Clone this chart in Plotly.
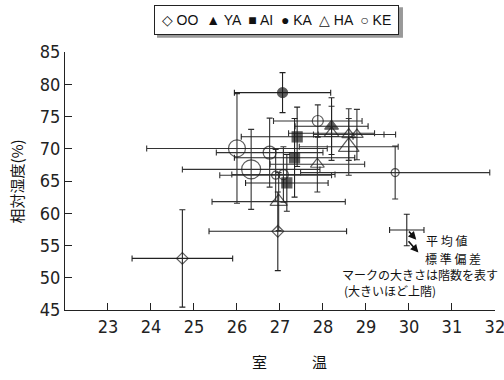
import plotly.graph_objects as go

# ---- data: mean room temperature (°C), mean RH (%), SDs, marker size (floor) ----
oo_t = [24.73, 26.95]
oo_h = [53.0, 57.2]
oo_tsd = [1.17, 1.6]
oo_hsd = [7.55, 6.1]
oo_sz = [9, 9]

ya_t = [28.2]
ya_h = [73.5]
ya_tsd = [0.85]
ya_hsd = [4.4]
ya_sz = [12]

ai_t = [27.40, 27.34, 27.16]
ai_h = [71.85, 68.6, 64.7]
ai_tsd = [1.3, 1.4, 0.96]
ai_hsd = [4.6, 6.1, 4.4]
ai_sz = [10, 10, 10]

ka_t = [27.06]
ka_h = [78.7]
ka_tsd = [1.12]
ka_hsd = [3.1]
ka_sz = [10]

ha_t = [26.97, 27.87, 28.6, 28.6, 28.79, 28.2]
ha_h = [61.8, 67.6, 70.3, 72.2, 72.2, 72.4]
ha_tsd = [1.55, 1.1, 1.15, 0.82, 0.9, 1.0]
ha_hsd = [4.5, 4.3, 4.4, 4.0, 3.9, 4.2]
ha_sz = [15, 12, 18, 12, 11, 13]

ke_t = [26.0, 26.33, 26.76, 27.88, 29.68, 26.9, 27.08]
ke_h = [70.05, 66.8, 69.4, 74.3, 66.3, 65.9, 66.0]
ke_tsd = [2.1, 1.6, 1.24, 1.03, 2.2, 1.3, 1.2]
ke_hsd = [8.5, 6.2, 5.35, 2.5, 4.1, 4.0, 4.3]
ke_sz = [17, 19, 13, 11, 8, 8, 10]

sample_t = [29.95]
sample_h = [57.4]
sample_tsd = [0.4]
sample_hsd = [2.45]

x_ticks = [23, 24, 25, 26, 27, 28, 29, 30, 31, 32]
y_ticks = [45, 50, 55, 60, 65, 70, 75, 80, 85]

series = [
    (ke_t, ke_h, ke_tsd, ke_hsd, ke_sz, "circle-open", "#333"),
    (oo_t, oo_h, oo_tsd, oo_hsd, oo_sz, "diamond-open", "#222"),
    (ha_t, ha_h, ha_tsd, ha_hsd, ha_sz, "triangle-up-open", "#333"),
    (ai_t, ai_h, ai_tsd, ai_hsd, ai_sz, "square", "#222"),
    (ya_t, ya_h, ya_tsd, ya_hsd, ya_sz, "triangle-up", "#222"),
    (ka_t, ka_h, ka_tsd, ka_hsd, ka_sz, "circle", "#222"),
]

fig = go.Figure()
for t, h, tsd, hsd, sz, sym, col in series:
    fig.add_trace(go.Scatter(
        x=t, y=h, mode="markers",
        marker=dict(symbol=sym, size=sz, color="#1a1a1a",
                    line=dict(color="#1a1a1a", width=1.2)),
        error_x=dict(type="data", array=tsd, visible=True, color=col,
                     thickness=1.1, width=3),
        error_y=dict(type="data", array=hsd, visible=True, color=col,
                     thickness=1.1, width=3),
        showlegend=False, hoverinfo="skip",
    ))

# explanatory sample cross
fig.add_trace(go.Scatter(
    x=sample_t, y=sample_h, mode="markers",
    marker=dict(size=1, color="rgba(0,0,0,0)"),
    error_x=dict(type="data", array=sample_tsd, visible=True, color="#222",
                 thickness=1.1, width=3),
    error_y=dict(type="data", array=sample_hsd, visible=True, color="#222",
                 thickness=1.1, width=3),
    showlegend=False, hoverinfo="skip",
))

jp = "Noto Sans CJK JP"
num = "Liberation Sans Narrow, DejaVu Sans Condensed, Liberation Sans"

ann = []
# arrows from sample cross to its labels
ann.append(dict(x=30.17, y=55.9, ax=29.97, ay=57.4, xref="x", yref="y",
                axref="x", ayref="y", text="", showarrow=True,
                arrowhead=2, arrowsize=1, arrowwidth=1.6, arrowcolor="#111"))
ann.append(dict(x=30.22, y=53.9, ax=29.96, ay=55.9, xref="x", yref="y",
                axref="x", ayref="y", text="", showarrow=True,
                arrowhead=2, arrowsize=1, arrowwidth=1.6, arrowcolor="#111"))
ann.append(dict(x=30.88, y=55.8, xref="x", yref="y", text="平 均 値",
                showarrow=False, font=dict(family=jp, size=12, color="#111")))
ann.append(dict(x=31.03, y=53.0, xref="x", yref="y", text="標 準 偏 差",
                showarrow=False, font=dict(family=jp, size=12, color="#111")))
ann.append(dict(x=28.4, y=50.55, xref="x", yref="y", xanchor="left",
                text="マークの大きさは階数を表す",
                showarrow=False, font=dict(family=jp, size=12, color="#111")))
ann.append(dict(x=28.45, y=47.95, xref="x", yref="y", xanchor="left",
                text="(大きいほど上階)",
                showarrow=False, font=dict(family=jp, size=12, color="#111")))
# axis titles
ann.append(dict(x=0.523, y=-0.2, xref="paper", yref="paper", yanchor="middle",
                text="室　　　温",
                showarrow=False, font=dict(family=jp, size=15, color="#111")))
ann.append(dict(x=-0.113, y=0.5, xref="paper", yref="paper",
                text="相対湿度(%)", textangle=-90, xanchor="center",
                yanchor="middle",
                showarrow=False, font=dict(family=jp, size=15, color="#111")))
# legend box
ann.append(dict(x=0.493, y=1.1227, xref="paper", yref="paper",
                xanchor="center", yanchor="middle",
                text="◇ OO  ▲ YA  ■ AI  ● KA  △ HA  ○ KE",
                showarrow=False, width=241, height=26,
                bgcolor="white", bordercolor="#222", borderwidth=1,
                font=dict(family="Liberation Sans", size=14, color="#111")))

fig.update_layout(
    width=504, height=380,
    margin=dict(l=65, r=9, t=52, b=70),
    paper_bgcolor="white", plot_bgcolor="white",
    annotations=ann,
    shapes=[dict(type="rect", xref="paper", yref="paper",
                 x0=0.214, x1=0.786, y0=1.055, y1=1.173,
                 line=dict(width=0), fillcolor="#999", layer="below")],
    xaxis=dict(range=[22, 32.002], tickvals=x_ticks, ticks="inside", ticklen=7,
               tickcolor="#222", showline=True, linecolor="#222", linewidth=1.2,
               showgrid=False, zeroline=False, ticklabeloverflow="allow",
               automargin=False,
               tickfont=dict(family=num, size=18, color="#222")),
    yaxis=dict(range=[45, 85], tickvals=y_ticks, ticks="inside", ticklen=7,
               tickcolor="#222", showline=True, linecolor="#222", linewidth=1.2,
               showgrid=False, zeroline=False, automargin=False,
               tickfont=dict(family=num, size=18, color="#222")),
)

fig.write_html("out.html")
